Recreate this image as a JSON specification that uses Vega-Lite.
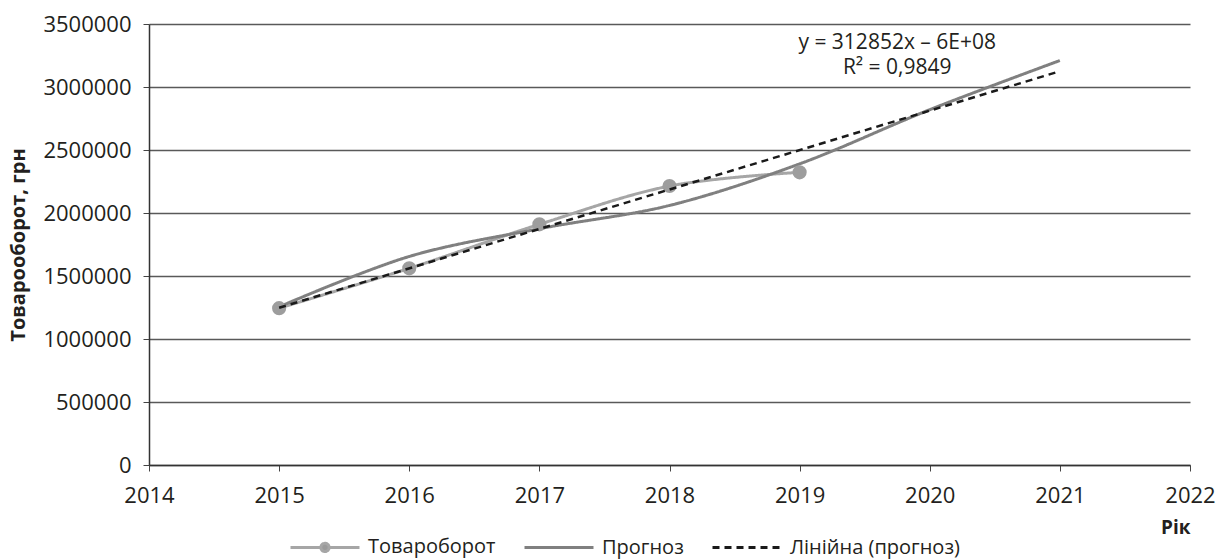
{
  "$schema": "https://vega.github.io/schema/vega-lite/v6.json",
  "width": 1041,
  "height": 441,
  "autosize": {"type": "none"},
  "padding": {"left": 149, "top": 24, "right": 29, "bottom": 95},
  "background": "white",
  "config": {
    "font": "Open Sans",
    "view": {"stroke": null},
    "axis": {"labelFont": "Open Sans", "titleFont": "Open Sans", "labelColor": "#231f20", "titleColor": "#231f20"}
  },
  "datasets": {
    "main": [
      {"year": 2015, "value": 1245000, "series": "Товароборот"},
      {"year": 2016, "value": 1561000, "series": "Товароборот"},
      {"year": 2017, "value": 1910000, "series": "Товароборот"},
      {"year": 2018, "value": 2214000, "series": "Товароборот"},
      {"year": 2019, "value": 2323000, "series": "Товароборот"},
      {"year": 2015, "value": 1255000, "series": "Прогноз"},
      {"year": 2016, "value": 1655000, "series": "Прогноз"},
      {"year": 2017, "value": 1875000, "series": "Прогноз"},
      {"year": 2018, "value": 2060000, "series": "Прогноз"},
      {"year": 2019, "value": 2390000, "series": "Прогноз"},
      {"year": 2020, "value": 2820000, "series": "Прогноз"},
      {"year": 2021, "value": 3210000, "series": "Прогноз"},
      {"year": 2015, "value": 1248000, "series": "Лінійна (прогноз)"},
      {"year": 2021, "value": 3125000, "series": "Лінійна (прогноз)"}
    ],
    "labels": [
      {"year": 2019.75, "value": 3350000, "label": "y = 312852x – 6E+08"},
      {"year": 2019.75, "value": 3148000, "label": "R² = 0,9849"}
    ]
  },
  "layer": [
    {
      "data": {"name": "main"},
      "transform": [{"filter": "datum.series !== 'Лінійна (прогноз)'"}],
      "mark": {"type": "line", "interpolate": "catmull-rom", "strokeWidth": 3},
      "encoding": {
        "x": {
          "field": "year", "type": "quantitative",
          "scale": {"domain": [2014, 2022], "nice": false, "zero": false},
          "axis": {
            "title": "Рік", "titleFontWeight": "bold", "titleFontSize": 19,
            "titleAnchor": "end", "titleAlign": "right", "titleBaseline": "middle", "titleY": 62, "titleX": 1041,
            "values": [2014, 2015, 2016, 2017, 2018, 2019, 2020, 2021, 2022],
            "format": "d", "labelFontSize": 22, "labelPadding": 14, "labelFlush": false,
            "tickSize": 6, "tickColor": "#444", "domainColor": "#333", "domainWidth": 1.5,
            "grid": false
          }
        },
        "y": {
          "field": "value", "type": "quantitative",
          "scale": {"domain": [0, 3500000], "nice": false},
          "axis": {
            "title": "Товарооборот, грн", "titleFontWeight": "bold", "titleFontSize": 20,
            "titlePadding": 14,
            "values": [0, 500000, 1000000, 1500000, 2000000, 2500000, 3000000, 3500000],
            "format": "d", "labelFontSize": 22, "labelPadding": 12,
            "tickSize": 6, "tickColor": "#444", "domainColor": "#333", "domainWidth": 1.5,
            "grid": true, "gridColor": "#595959", "gridWidth": 1.5
          }
        },
        "color": {
          "field": "series", "type": "nominal",
          "scale": {"domain": ["Товароборот", "Прогноз", "Лінійна (прогноз)"], "range": ["#a6a6a6", "#808080", "#1a1a1a"]},
          "legend": {
            "title": null, "orient": "none", "direction": "horizontal",
            "legendX": 140, "legendY": 487,
            "labelFontSize": 20, "labelFont": "Open Sans", "labelColor": "#231f20", "labelLimit": 0,
            "symbolType": "stroke", "symbolSize": 4761, "symbolStrokeWidth": 3,
            "columnPadding": 22, "labelOffset": 7,
            "encode": {
              "symbols": {
                "update": {
                  "shape": {"signal": "datum.value === 'Товароборот' ? 'M-1,0H-0.12A0.12,0.12,0,1,1,0.12,0A0.12,0.12,0,1,1,-0.12,0M0.12,0H1' : 'stroke'"},
                  "fill": {"signal": "datum.value === 'Товароборот' ? '#9a9a9a' : 'transparent'"}
                }
              }
            }
          }
        },
        "strokeDash": {
          "field": "series", "type": "nominal",
          "scale": {"domain": ["Товароборот", "Прогноз", "Лінійна (прогноз)"], "range": [[1, 0], [1, 0], [7, 5]]},
          "legend": null
        }
      }
    },
    {
      "data": {"name": "main"},
      "transform": [{"filter": "datum.series === 'Товароборот'"}],
      "mark": {"type": "point", "filled": true, "size": 200, "color": "#9d9d9d", "opacity": 1},
      "encoding": {
        "x": {"field": "year", "type": "quantitative"},
        "y": {"field": "value", "type": "quantitative"}
      }
    },
    {
      "data": {"name": "main"},
      "transform": [{"filter": "datum.series === 'Лінійна (прогноз)'"}],
      "mark": {"type": "line", "strokeWidth": 2.5},
      "encoding": {
        "x": {"field": "year", "type": "quantitative"},
        "y": {"field": "value", "type": "quantitative"},
        "color": {"field": "series", "type": "nominal"},
        "strokeDash": {"field": "series", "type": "nominal"}
      }
    },
    {
      "data": {"name": "labels"},
      "mark": {"type": "text", "fontSize": 21, "font": "Open Sans", "color": "#231f20", "align": "center", "baseline": "middle"},
      "encoding": {
        "x": {"field": "year", "type": "quantitative"},
        "y": {"field": "value", "type": "quantitative"},
        "text": {"field": "label"}
      }
    }
  ]
}
